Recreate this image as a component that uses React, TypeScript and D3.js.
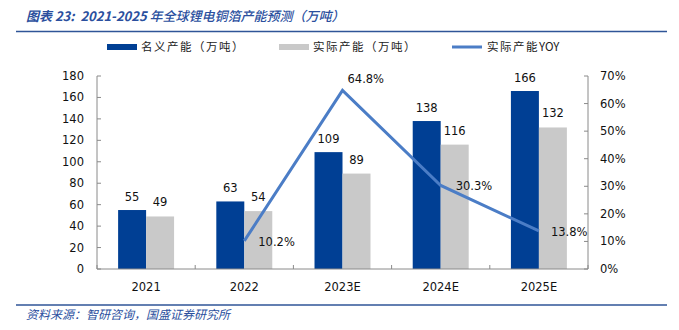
import React from "react";
import * as d3 from "d3";

const categories = ["2021", "2022", "2023E", "2024E", "2025E"];
const nominal = [55, 63, 109, 138, 166];
const actual = [49, 54, 89, 116, 132];
const yoy = [null, 0.102, 0.648, 0.303, 0.138];
const leftTicks = [0, 20, 40, 60, 80, 100, 120, 140, 160, 180];
const rightTicks = [0, 0.1, 0.2, 0.3, 0.4, 0.5, 0.6, 0.7];

const W = 679, H = 330;
const left = 97, right = 588, top = 76, bottom = 269;
const BLUE = "#003F94", GREY = "#C9C9C9", LINE = "#4B7DC6", TITLE = "#2B4F9E";
const FONT = "'DejaVu Sans', Tahoma, sans-serif";
const CJK = "'Noto Sans CJK SC', sans-serif";

// label offset for yoy labels [dx, dy]
const yoyOffset: [number, number][] = [[0, 0], [14, 5], [5, -7], [15, 5], [12, 5]];

export default function App() {
  const x = d3.scaleBand().domain(categories).range([left, right]).padding(0);
  const yL = d3.scaleLinear().domain([0, 180]).range([bottom, top]);
  const yR = d3.scaleLinear().domain([0, 0.7]).range([bottom, top]);
  const bw = x.bandwidth() * 0.285;
  const cx = (c: string) => (x(c) as number) + x.bandwidth() / 2;

  const pts = categories
    .map((c, i) => ({ c, v: yoy[i] }))
    .filter((d) => d.v !== null) as { c: string; v: number }[];
  const line = d3
    .line<{ c: string; v: number }>()
    .x((d) => cx(d.c))
    .y((d) => yR(d.v));

  const boundaries = [left, ...categories.map((c) => (x(c) as number) + x.bandwidth())];

  return (
    <svg width={W} height={H} style={{ position: "absolute", left: 0, top: 0 }}>
      <rect width={W} height={H} fill="#fff" />
      {/* Title */}
      <text x={26} y={21} fill={TITLE} fontFamily={CJK} fontStyle="italic" fontSize={13} style={{ whiteSpace: "pre" }}>
        <tspan fontWeight="bold">{"图表 23:  2021-2025 "}</tspan>
        <tspan fontWeight={500}>年全球锂电铜箔产能预测（万吨）</tspan>
      </text>
      <line x1={16} x2={667} y1={31.5} y2={31.5} stroke="#2F5597" strokeWidth={1.5} />

      {/* Legend */}
      <rect x={107} y={44} width={30} height={6} fill={BLUE} />
      <text x={141} y={51} fontFamily={CJK} fontSize={11.5} letterSpacing={1.5} fill="#222">名义产能（万吨）</text>
      <rect x={279} y={44} width={30} height={6} fill={GREY} />
      <text x={313} y={51} fontFamily={CJK} fontSize={11.5} letterSpacing={1.5} fill="#222">实际产能（万吨）</text>
      <line x1={452} x2={482} y1={47} y2={47} stroke={LINE} strokeWidth={3} />
      <text x={487} y={51} fontFamily={CJK} fontSize={11.5} fill="#222">
        <tspan letterSpacing={1.5}>实际产能</tspan>
        <tspan>YOY</tspan>
      </text>

      {/* Bars */}
      {categories.map((c, i) => (
        <g key={c}>
          <rect x={cx(c) - bw} y={yL(nominal[i])} width={bw} height={bottom - yL(nominal[i])} fill={BLUE} />
          <rect x={cx(c)} y={yL(actual[i])} width={bw} height={bottom - yL(actual[i])} fill={GREY} />
          <text x={cx(c) - bw / 2} y={yL(nominal[i]) - 9} textAnchor="middle" fontFamily={FONT} fontSize={11.5} fill="#111">
            {nominal[i]}
          </text>
          <text x={cx(c) + bw / 2} y={yL(actual[i]) - 10} textAnchor="middle" fontFamily={FONT} fontSize={11.5} fill="#111">
            {actual[i]}
          </text>
        </g>
      ))}

      {/* Axes */}
      <g stroke="#8A8A8A" strokeWidth={1} fill="none">
        <line x1={left} x2={left} y1={top} y2={bottom} />
        <line x1={right} x2={right} y1={top} y2={bottom} />
        <line x1={left} x2={right} y1={bottom} y2={bottom} />
        {leftTicks.map((t) => (
          <line key={"l" + t} x1={left} x2={left + 4} y1={yL(t)} y2={yL(t)} />
        ))}
        {rightTicks.map((t) => (
          <line key={"r" + t} x1={right - 4} x2={right} y1={yR(t)} y2={yR(t)} />
        ))}
        {boundaries.map((b, i) => (
          <line key={"b" + i} x1={b} x2={b} y1={bottom - 4} y2={bottom} />
        ))}
      </g>
      {leftTicks.map((t) => (
        <text key={"lt" + t} x={84} y={yL(t) + 4} textAnchor="end" fontFamily={FONT} fontSize={11.5} fill="#111">
          {t}
        </text>
      ))}
      {rightTicks.map((t) => (
        <text key={"rt" + t} x={600} y={yR(t) + 4} fontFamily={FONT} fontSize={11.5} fill="#111">
          {d3.format(".0%")(t)}
        </text>
      ))}
      {categories.map((c) => (
        <text key={"x" + c} x={cx(c)} y={291} textAnchor="middle" fontFamily={FONT} fontSize={11.5} fill="#111">
          {c}
        </text>
      ))}

      {/* Line */}
      <path d={line(pts) || ""} fill="none" stroke={LINE} strokeWidth={3} strokeLinejoin="miter" />
      {categories.map((c, i) =>
        yoy[i] === null ? null : (
          <text key={"yl" + c} x={cx(c) + yoyOffset[i][0]} y={yR(yoy[i] as number) + yoyOffset[i][1]} fontFamily={FONT} fontSize={11.5} fill="#111">
            {d3.format(".1%")(yoy[i] as number)}
          </text>
        )
      )}

      {/* Footer */}
      <line x1={16} x2={667} y1={305} y2={305} stroke="#2F5597" strokeWidth={1.5} />
      <text x={26} y={319} fill={TITLE} fontFamily={CJK} fontStyle="italic" fontSize={12}>
        资料来源：智研咨询，国盛证券研究所
      </text>
    </svg>
  );
}
